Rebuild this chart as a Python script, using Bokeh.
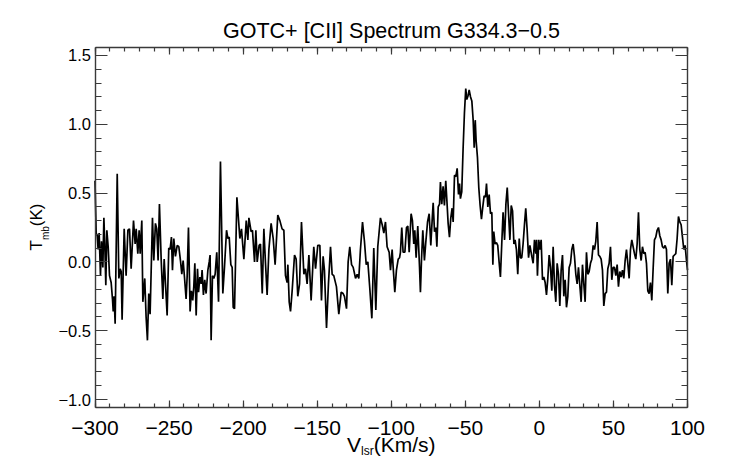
import math
from bokeh.plotting import figure
from bokeh.models import (LinearAxis, SingleIntervalTicker, CustomJSTickFormatter,
                          Label, Range1d, ColumnDataSource)
from bokeh.embed import file_html
from bokeh.resources import INLINE

# ---------------- data ----------------
title_text = "GOTC+ [CII] Spectrum G334.3\u22120.5"
x_label_main = "V"
x_label_sub = "lsr"
x_label_tail = "(Km/s)"
y_label_main = "T"
y_label_sub = "mb"
y_label_tail = "(K)"

x_limits = (-300.0, 100.0)
y_limits = (-1.058, 1.558)

velocity_1 = [-300.0, -299.2, -298.5, -297.9, -297.2, -296.3, -295.6, -294.7, -294.0, -293.4,
              -292.7, -292.0, -291.1, -290.2, -289.1, -288.2, -287.7, -287.1, -286.4, -285.0,
              -283.9, -283.0, -282.3, -281.7, -280.3, -279.0, -277.8, -276.7, -275.6, -274.0,
              -272.9, -272.2, -271.1, -270.2, -269.5, -268.4, -267.7, -266.4, -265.5, -264.6,
              -263.7, -262.8, -261.2, -260.3, -259.2, -258.3, -257.4, -256.5, -255.3, -254.2,
              -253.3, -252.4, -251.3, -250.2, -249.3, -248.4, -247.7, -246.8, -245.7, -244.5,
              -243.4, -242.3, -241.4, -240.5, -239.6, -238.5, -237.8, -236.9, -235.8, -234.9,
              -234.0, -233.3, -232.6, -231.7, -230.8, -230.1, -229.2, -228.3, -227.7, -226.8,
              -225.9, -225.0, -223.8, -222.9, -222.3, -221.6, -220.7, -219.8, -218.9, -217.8,
              -216.6, -215.3, -213.7, -212.6, -211.2, -210.3, -209.4, -208.3, -207.4, -206.7,
              -205.8, -204.2]
tmb_1 = [0.59, 0.21, 0.19, 0.09, 0.21, -0.10, 0.15, -0.04, 0.32, 0.13,
         -0.17, 0.23, 0.11, -0.10, -0.15, -0.27, -0.36, -0.25, -0.45, 0.64,
         -0.12, -0.05, -0.07, -0.42, 0.24, -0.10, 0.23, 0.24, -0.05, 0.30,
         0.13, 0.24, 0.06, 0.23, 0.06, 0.30, -0.29, -0.12, -0.40, -0.57,
         -0.23, -0.38, 0.32, 0.01, 0.28, 0.24, 0.01, 0.42, 0.01, -0.27,
         0.02, -0.16, -0.39, 0.10, 0.09, 0.18, -0.06, 0.17, 0.04, 0.12,
         0.11, 0.01, -0.09, 0.01, -0.11, -0.27, -0.11, 0.25, -0.36, -0.21,
         -0.28, -0.18, -0.01, -0.39, -0.05, -0.22, -0.11, -0.16, -0.06, -0.24,
         -0.13, -0.23, -0.06, 0.00, 0.05, -0.57, -0.10, -0.12, -0.09, 0.07,
         -0.29, 0.73, -0.23, -0.04, 0.23, 0.17, 0.18, -0.02, -0.04, -0.33,
         -0.34, 0.47]

velocity_2 = [-202.2, -201.1, -199.5, -197.9, -196.8, -196.1, -194.6, -193.7, -192.3, -191.4,
              -190.5, -189.2, -188.3, -187.1, -186.0, -184.9, -183.8, -182.6, -181.1, -179.7,
              -178.4, -176.6, -175.2, -173.7, -172.5, -171.4, -170.3, -169.8, -168.9, -168.0,
              -166.9, -165.3, -164.2, -163.1, -161.9, -160.6, -159.0, -157.9, -156.8, -155.6,
              -154.1, -152.3, -151.1, -149.6, -148.2, -147.1, -146.0, -145.1, -143.7, -142.4,
              -141.0, -139.9, -138.8, -137.0, -135.4, -133.8, -132.5, -131.6, -130.2, -129.1,
              -128.0, -126.8, -125.7, -124.1, -123.0, -121.9, -120.8, -119.4, -118.1, -116.9,
              -115.8, -114.5, -113.1, -111.8, -110.4, -109.1, -107.3, -106.1, -105.0, -103.9,
              -102.8, -101.4]
tmb_2 = [0.17, 0.24, 0.02, 0.30, 0.16, 0.32, 0.22, 0.23, 0.00, 0.23,
         0.00, 0.12, 0.13, -0.23, 0.24, -0.01, -0.24, 0.09, 0.28, 0.17,
         -0.02, 0.34, 0.30, 0.24, 0.23, -0.10, -0.15, -0.02, -0.29, -0.36,
         -0.21, 0.05, 0.02, -0.25, -0.16, 0.29, -0.09, -0.05, -0.16, 0.05,
         -0.28, 0.11, -0.05, 0.12, 0.12, -0.28, 0.04, -0.06, -0.48, -0.16,
         0.11, -0.09, -0.10, -0.18, -0.38, -0.22, -0.23, -0.25, -0.34, 0.00,
         0.11, -0.02, -0.04, -0.12, -0.09, -0.12, 0.09, 0.29, 0.15, -0.02,
         0.00, -0.19, -0.41, 0.10, -0.35, 0.11, 0.32, 0.27, 0.21, 0.29,
         0.11, 0.07]

velocity_3 = [-100.5, -99.4, -98.7, -97.6, -96.5, -95.3, -94.4, -93.8, -92.9, -92.0,
              -90.8, -89.7, -88.8, -87.9, -86.6, -85.7, -84.8, -84.1, -83.2, -82.1,
              -80.9, -80.3, -79.6, -78.7, -77.6, -76.7, -75.5, -74.4, -73.3, -72.4,
              -71.7, -70.8, -69.9, -69.2, -68.3, -67.4, -66.8, -65.9, -65.0, -64.1,
              -63.2, -62.3, -61.6, -60.7, -59.8, -58.9, -58.2, -57.3, -56.4, -55.5,
              -54.6, -53.9, -53.3, -52.4, -51.5, -50.6, -49.7, -49.0, -48.1, -47.4,
              -46.5, -45.6, -44.7, -44.0, -43.3, -42.7, -41.8, -40.9, -40.0, -39.1,
              -38.2, -37.3, -36.4, -35.7, -34.8, -33.9, -33.0, -32.1, -31.4, -30.8,
              -29.9, -29.0, -28.1, -27.2, -26.3, -25.4, -24.5, -23.5, -22.6, -21.7,
              -20.8, -19.9, -19.0, -18.1, -17.2, -16.4, -15.5, -14.6, -13.6, -12.8,
              -11.9, -11.0, -10.0, -9.2, -8.3, -7.3, -6.4]
tmb_3 = [-0.06, 0.09, -0.04, -0.22, -0.06, 0.02, 0.03, 0.07, 0.25, 0.07,
         0.07, 0.25, 0.26, 0.07, 0.35, 0.30, 0.13, 0.23, 0.03, 0.26,
         -0.04, -0.22, 0.01, 0.23, 0.01, 0.14, 0.29, 0.35, 0.12, 0.30,
         0.43, 0.22, 0.25, 0.11, 0.40, 0.42, 0.58, 0.42, 0.55, 0.41,
         0.59, 0.42, 0.28, 0.18, 0.32, 0.39, 0.29, 0.63, 0.62, 0.68,
         0.49, 0.57, 0.46, 0.51, 0.82, 1.08, 1.26, 1.18, 1.21, 1.25,
         1.20, 1.17, 1.03, 0.83, 1.03, 0.88, 0.76, 0.54, 0.41, 0.31,
         0.40, 0.48, 0.47, 0.57, 0.40, 0.49, 0.35, 0.36, -0.02, 0.22,
         0.13, 0.14, 0.12, 0.00, -0.11, 0.13, 0.36, 0.16, 0.42, 0.54,
         0.35, 0.16, 0.41, 0.37, 0.13, 0.16, 0.09, -0.09, 0.17, 0.03,
         0.03, 0.13, 0.28, 0.39, 0.24, 0.03, 0.12]

velocity_4 = [-5.1, -4.2, -3.3, -2.4, -1.9, -1.3, -0.4, 0.3, 1.2, 2.1,
              3.0, 3.9, 4.8, 5.7, 6.6, 7.5, 8.4, 9.3, 10.2, 11.1,
              12.0, 12.9, 13.8, 14.7, 15.6, 16.5, 17.4, 18.3, 19.2, 20.1,
              21.0, 21.9, 22.8, 23.7, 24.6, 25.5, 26.4, 27.3, 28.2, 29.1,
              30.0, 30.9, 31.8, 32.7, 33.6, 34.5, 35.4, 36.3, 37.2, 38.1,
              39.0, 39.9, 40.8, 41.7, 42.6, 43.5, 44.4, 45.3, 46.2, 47.1,
              48.0, 48.9, 49.8, 50.7, 51.6, 52.5, 53.4, 54.3, 55.2, 56.1,
              57.0, 57.9, 58.8, 59.7, 60.6, 61.5, 62.4, 63.3, 64.2, 65.1,
              66.0, 66.9, 67.8, 68.7, 69.6, 70.5, 71.4, 72.3, 73.2, 74.1,
              75.0, 75.9, 76.8, 77.7, 78.6, 79.5, 80.4, 81.3, 82.2, 83.1,
              84.0, 84.9, 85.8, 86.7, 87.6, 88.5, 89.4, 90.3, 91.2, 92.1,
              93.0, 93.9, 94.8, 95.7, 96.6, 97.5, 98.4, 99.3, 100.0]
tmb_4 = [0.04, -0.01, 0.16, 0.06, 0.16, -0.10, 0.16, 0.09, 0.16, -0.13,
         -0.11, -0.15, -0.24, -0.12, 0.05, -0.04, -0.21, 0.11, -0.17, -0.29,
         -0.01, -0.09, -0.32, -0.06, 0.05, -0.25, -0.13, -0.33, -0.25, -0.04,
         -0.01, 0.09, 0.13, 0.04, -0.09, -0.16, -0.04, -0.17, -0.29, -0.02,
         -0.16, -0.29, 0.07, -0.09, -0.07, -0.01, 0.02, 0.12, 0.09, 0.15,
         0.29, 0.05, 0.04, 0.02, -0.06, -0.32, -0.23, -0.22, -0.05, -0.01,
         0.11, -0.13, -0.04, -0.04, -0.10, -0.02, -0.18, -0.07, -0.11, -0.06,
         -0.12, 0.01, 0.09, -0.01, -0.12, 0.09, 0.16, 0.11, 0.06, 0.02,
         0.13, 0.36, 0.09, 0.01, 0.11, 0.06, 0.07, -0.01, -0.21, -0.23,
         -0.15, -0.28, -0.05, 0.16, 0.18, 0.23, 0.25, 0.19, 0.16, 0.11,
         0.10, 0.12, 0.09, -0.23, -0.01, 0.02, -0.17, 0.04, 0.05, 0.06,
         0.17, 0.33, 0.29, 0.27, 0.18, 0.09, 0.12, 0.01, -0.06]

velocity = velocity_1 + velocity_2 + velocity_3 + velocity_4
tmb = tmb_1 + tmb_2 + tmb_3 + tmb_4

# ---------------- layout geometry (canvas pixels) ----------------
W, H = 742, 464
FRAME_L, FRAME_R, FRAME_T, FRAME_B = 94.5, 687.0, 47.0, 407.0

x_per_px = (x_limits[1] - x_limits[0]) / (FRAME_R - FRAME_L)
y_per_px = (y_limits[1] - y_limits[0]) / (FRAME_B - FRAME_T)
view_x = (x_limits[0] - FRAME_L * x_per_px, x_limits[1] + (W - FRAME_R) * x_per_px)
view_y = (y_limits[0] - (H - FRAME_B) * y_per_px, y_limits[1] + FRAME_T * y_per_px)

FONT = "Liberation Sans"
AXC = "#3a3a3a"
MID = 0.3465  # baseline -> middle of text box, in em

p = figure(width=W, height=H, output_backend="svg", toolbar_location=None,
           x_range=Range1d(*view_x), y_range=Range1d(*view_y),
           x_axis_location=None, y_axis_location=None,
           min_border=0, min_border_left=0, min_border_right=0,
           min_border_top=0, min_border_bottom=0,
           background_fill_color="white", border_fill_color="white")
p.outline_line_color = None
p.grid.visible = False

src = ColumnDataSource(data=dict(v=velocity, t=tmb))
p.line(x="v", y="t", source=src, line_color="black", line_width=1.7)

x_fmt = CustomJSTickFormatter(code="return (tick < -1e-9 ? '\\u2212' : '') + Math.abs(tick).toFixed(0);")
y_fmt = CustomJSTickFormatter(code="return (tick < -1e-9 ? '\\u2212' : '') + Math.abs(tick).toFixed(1);")


def make_axis(fixed, bounds, interval, major_in, minor_in, fmt):
    ax = LinearAxis(fixed_location=fixed, bounds=bounds,
                    ticker=SingleIntervalTicker(interval=interval, num_minor_ticks=5))
    ax.axis_line_color = AXC
    ax.axis_line_width = 1.4
    ax.major_tick_line_color = AXC
    ax.minor_tick_line_color = AXC
    ax.major_tick_line_width = 1.2
    ax.minor_tick_line_width = 1.2
    ax.major_tick_in = major_in
    ax.major_tick_out = 0
    ax.minor_tick_in = minor_in
    ax.minor_tick_out = 0
    if fmt is None:
        ax.major_label_text_font_size = "0px"
        ax.major_label_text_alpha = 0
        ax.formatter = CustomJSTickFormatter(code="return '';")
    else:
        ax.formatter = fmt
        ax.major_label_text_font = FONT
        ax.major_label_text_color = "black"
    return ax


xb = make_axis(y_limits[0], x_limits, 50, 7, 4, x_fmt)
xb.major_label_text_font_size = "21px"
xb.major_label_standoff = 13
p.add_layout(xb, "below")

xt = make_axis(y_limits[1], x_limits, 50, 7, 4, None)
p.add_layout(xt, "above")

yl = make_axis(x_limits[0], y_limits, 0.5, 12, 6, y_fmt)
yl.major_label_text_font_size = "16.5px"
yl.major_label_standoff = 4
p.add_layout(yl, "left")

yr = make_axis(x_limits[1], y_limits, 0.5, 12, 6, None)
p.add_layout(yr, "right")


# ---------------- texts (screen px: x from left, y up from bottom) ----------------
def add_label(x, baseline, text, size, rotated=False, align="left"):
    """Place text so its alphabetic baseline lies at `baseline` (canvas px)."""
    shift = MID * size
    if rotated:
        lx, ly, ang = baseline - shift, H - x, math.pi / 2
    else:
        lx, ly, ang = x, H - baseline + shift, 0.0
    p.add_layout(Label(x=lx, y=ly, x_units="screen", y_units="screen", text=text,
                       text_font=FONT, text_font_size=f"{size}px", text_color="black",
                       text_align=align, text_baseline="middle", angle=ang))


add_label(391, 38, title_text, 21.5, align="center")

add_label(346.5, 451.7, x_label_main, 21)
add_label(360.5, 454.3, x_label_sub, 12)
add_label(373.2, 451.7, x_label_tail, 21)

# rotated: first arg is the canvas y where the text starts, second the baseline x
add_label(250, 42, y_label_main, 17, rotated=True)
add_label(239.6, 48, y_label_sub, 10, rotated=True)
add_label(225.7, 42, y_label_tail, 17, rotated=True)

open("out.html", "w", encoding="utf-8").write(file_html(p, INLINE))
